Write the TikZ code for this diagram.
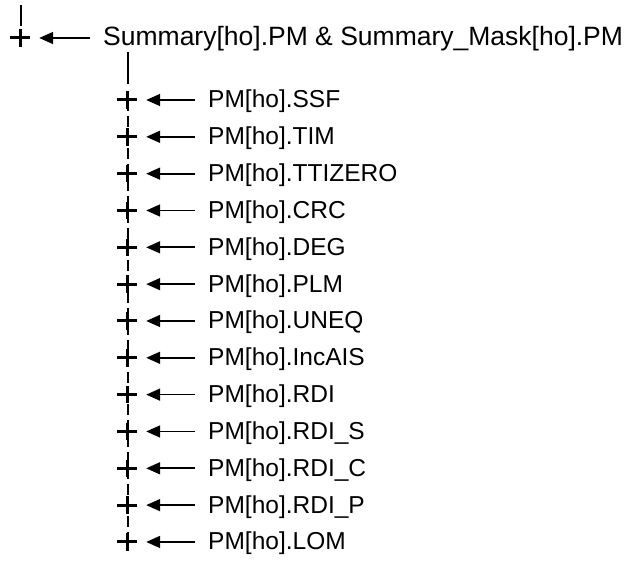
\documentclass[tikz,border=0pt]{standalone}
\usepackage{fontspec}
\setmainfont{Liberation Sans}
\usetikzlibrary{arrows.meta}
\begin{document}
\begin{tikzpicture}[x=1pt,y=-1pt,
  plusnode/.style={rectangle,minimum width=20pt,minimum height=17pt,inner sep=0pt},
  plusbar/.style={line width=3pt},
  lbl/.style={anchor=base west,inner xsep=13pt,inner ysep=2pt,font=\fontsize{24.5}{26}\selectfont},
  arr/.style={-{Triangle[length=14pt,width=12pt]},line width=1.7pt,shorten >=9pt},
  vline/.style={line width=1.7pt},
  dline/.style={line width=1.7pt,dash pattern=on 11pt off 5pt}
]
\useasboundingbox (0,0) rectangle (627,577);
% top level
\coordinate (t0) at (21,5);
\node[plusnode] (p0) at (20,38) {};
\node[lbl,font=\fontsize{26.5}{28}\selectfont] (l0) at (90,46) {Summary[ho].PM \& Summary\_Mask[ho].PM};
\draw[vline,shorten >=3pt] (t0) -- (t0 |- p0.north);
\draw[arr] (l0.west |- p0) -- (p0.east);
% second level
\coordinate (t1) at (128,52);
\foreach \i/\t in {1/SSF,2/TIM,3/TTIZERO,4/CRC,5/DEG,6/PLM,7/UNEQ,8/IncAIS,9/RDI,10/RDI\_S,11/RDI\_C,12/RDI\_P,13/LOM}{
  \node[plusnode] (p\i) at (127,{100+36.83*(\i-1)}) {};
  \node[lbl] (l\i) at (195,{108+36.83*(\i-1)}) {PM[ho].\t};
  \draw[arr] (l\i.west |- p\i) -- (p\i.east);
}
\draw[vline,shorten >=7pt] (t1) -- (t1 |- p1.north);
\draw[dline] ([xshift=1pt]p1.center) -- ([xshift=1pt]p13.center);
\foreach \i in {0,...,13}{
  \draw[plusbar] (p\i.west) -- (p\i.east);
  \draw[plusbar] (p\i.north) -- (p\i.south);
}
\end{tikzpicture}
\end{document}
